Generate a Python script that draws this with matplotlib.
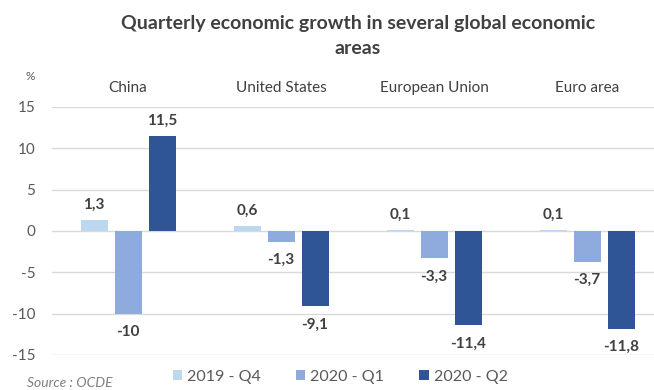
import numpy as np
import matplotlib
matplotlib.use('Agg')
import matplotlib.pyplot as plt
from matplotlib.patches import Patch

plt.rcParams['font.family'] = ['Lato', 'DejaVu Sans']

areas = ['China', 'United States', 'European Union', 'Euro area']
quarters = ['2019 - Q4', '2020 - Q1', '2020 - Q2']
q4_2019 = [1.3, 0.6, 0.1, 0.1]
q1_2020 = [-10, -1.3, -3.3, -3.7]
q2_2020 = [11.5, -9.1, -11.4, -11.8]
yticks = [15, 10, 5, 0, -5, -10, -15]

colors = ['#bdd7ee', '#8faadc', '#2f5597']
text_col = '#595959'
dark_text = '#404040'

def fmt(v):
    s = f'{v:g}'
    return s.replace('.', ',')

fig = plt.figure(figsize=(6.54, 3.9), dpi=100)
left = 52
ax = fig.add_axes([left / 654, 35 / 390, 1 - left / 654, 248 / 390])

x = np.arange(len(areas))
w = 27 / 153
step = 34 / 153
for k, vals in enumerate([q4_2019, q1_2020, q2_2020]):
    pos = x + (k - 1) * step
    ax.bar(pos, vals, width=w, color=colors[k], zorder=3)
    for px, v in zip(pos, vals):
        if v >= 0:
            ax.annotate(fmt(v), (px, v), xytext=(0, 6), textcoords='offset points',
                        ha='center', va='bottom', fontsize=11, fontweight='bold', color=dark_text)
        else:
            ax.annotate(fmt(v), (px, v), xytext=(0, -8), textcoords='offset points',
                        ha='center', va='top', fontsize=11, fontweight='bold', color=dark_text)

ax.set_xlim(-(128 - left) / 153, 3 + (654 - 587) / 153)
ax.set_ylim(-15, 15)
ax.set_yticks(yticks)
ax.set_yticklabels([str(t) for t in yticks], fontsize=11, color=text_col)
ax.set_xticks([])
ax.tick_params(axis='y', length=0, pad=12)
ax.grid(axis='y', color='#d9d9d9', linewidth=1, zorder=0)
for sp in ax.spines.values():
    sp.set_visible(False)

# area names sit above the plot
for i, name in enumerate(areas):
    ax.text(i, 17.3, name, ha='center', va='center', fontsize=11, color=dark_text, clip_on=False)

fig.text(30 / 654, 1 - 77 / 390, '%', ha='center', va='center', fontsize=8.5, color=text_col)
fig.text(0.547, 1 - 23 / 390, 'Quarterly economic growth in several global economic',
         ha='center', va='center', fontsize=14, fontweight='bold', color=dark_text)
fig.text(0.547, 1 - 48 / 390, 'areas',
         ha='center', va='center', fontsize=14, fontweight='bold', color=dark_text)

handles = [Patch(facecolor=c, label=q) for c, q in zip(colors, quarters)]
fig.legend(handles=handles, loc='center', bbox_to_anchor=(0.52, 1 - 377 / 390), ncol=3,
           frameon=False, fontsize=11.5, handlelength=0.6, handleheight=0.6, handletextpad=0.3,
           columnspacing=2.2, labelcolor=text_col)
fig.text(27 / 654, 1 - 383 / 390, 'Source : OCDE', ha='left', va='center', fontsize=10,
         style='italic', color='#7f7f7f')

fig.savefig('out.png', dpi=100)
